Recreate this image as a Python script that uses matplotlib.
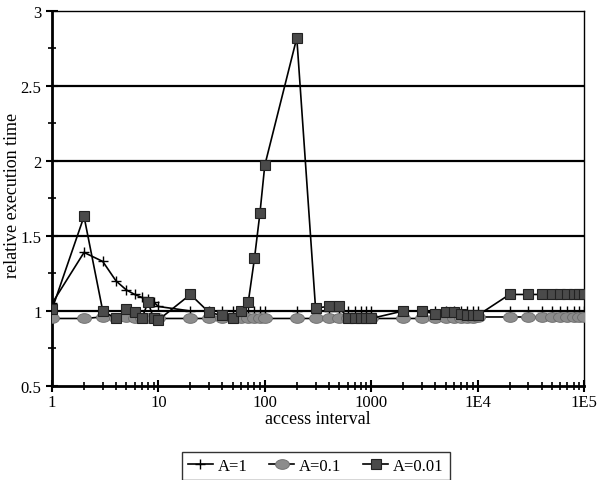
import matplotlib.pyplot as plt
import numpy as np
from matplotlib.path import Path
from matplotlib.ticker import FixedLocator, NullFormatter

# access interval values (1..9 per decade up to 1E5)
intervals = [1, 2, 3, 4, 5, 6, 7, 8, 9,
             10, 20, 30, 40, 50, 60, 70, 80, 90,
             100, 200, 300, 400, 500, 600, 700, 800, 900,
             1000, 2000, 3000, 4000, 5000, 6000, 7000, 8000, 9000,
             10000, 20000, 30000, 40000, 50000, 60000, 70000, 80000, 90000,
             100000]

a_1 = [1.05, 1.39, 1.33, 1.20, 1.14, 1.11, 1.09, 1.08, 1.06,
       1.03, 1.00, 1.00, 1.00, 1.00, 1.00, 1.00, 1.00, 1.00,
       1.00, 1.00, 1.00, 1.00, 1.00, 1.00, 1.00, 1.00, 1.00,
       1.00, 1.00, 1.00, 1.00, 1.00, 1.00, 1.00, 1.00, 1.00,
       1.00, 1.00, 1.00, 1.00, 1.00, 1.00, 1.00, 1.00, 1.00,
       1.00]

a_01 = [0.95, 0.95, 0.96, 0.95, 0.96, 0.95, 0.95, 0.95, 0.95,
        0.95, 0.95, 0.95, 0.95, 0.95, 0.95, 0.95, 0.95, 0.95,
        0.95, 0.95, 0.95, 0.95, 0.95, 0.95, 0.95, 0.95, 0.95,
        0.95, 0.95, 0.95, 0.95, 0.95, 0.95, 0.95, 0.95, 0.95,
        0.96, 0.96, 0.96, 0.96, 0.96, 0.96, 0.96, 0.96, 0.96,
        0.96]

a_001 = [1.01, 1.63, 1.00, 0.95, 1.01, 0.99, 0.95, 1.06, 0.95,
         0.94, 1.11, 0.99, 0.97, 0.95, 1.00, 1.06, 1.35, 1.65,
         1.97, 2.82, 1.02, 1.03, 1.03, 0.95, 0.95, 0.95, 0.95,
         0.95, 1.00, 1.00, 0.98, 0.99, 0.99, 0.98, 0.97, 0.97,
         0.97, 1.11, 1.11, 1.11, 1.11, 1.11, 1.11, 1.11, 1.11,
         1.11]

tick_vals = [1, 10, 100, 1000, 10000, 100000]
tick_labels = ['1', '10', '100', '1000', '1E4', '1E5']

plt.rcParams['font.family'] = ['Liberation Serif', 'DejaVu Serif']

# flattened ellipse marker for the A=0.1 series
t = np.linspace(0, 2 * np.pi, 40)
ellipse = Path(np.column_stack([np.cos(t), 0.7 * np.sin(t)]), closed=True)

fig = plt.figure(figsize=(5.97, 4.81), dpi=100)
ax = fig.add_axes([0.0871, 0.1954, 0.891, 0.78])

for y in [1.0, 1.5, 2.0, 2.5]:
    ax.axhline(y, color='black', lw=1.6, zorder=1)

ax.plot(intervals, a_1, color='black', lw=1.2, marker='+', ms=7, mew=1.0,
        label='A=1', zorder=3)
ax.plot(intervals, a_01, color='black', lw=1.2, marker=ellipse, ms=10,
        mfc='#8c8c8c', mec='#6a6a6a', mew=0.6, label='A=0.1', zorder=4)
ax.plot(intervals, a_001, color='black', lw=1.2, marker='s', ms=6.5,
        mfc='#4a4a4a', mec='#222222', mew=0.8, label='A=0.01', zorder=5)

ax.set_xscale('log')
ax.set_xlim(1, 100000)
ax.set_ylim(0.5, 3)

ax.xaxis.set_major_locator(FixedLocator(tick_vals))
ax.set_xticklabels(tick_labels)
ax.xaxis.set_minor_locator(FixedLocator([m * 10 ** d for d in range(5) for m in range(2, 10)]))
ax.xaxis.set_minor_formatter(NullFormatter())
ax.set_yticks([0.5, 1, 1.5, 2, 2.5, 3])
ax.set_yticklabels(['0.5', '1', '1.5', '2', '2.5', '3'])
ax.set_yticks([0.75, 1.25, 1.75, 2.25, 2.75], minor=True)

ax.tick_params(axis='both', which='major', direction='inout', length=8, width=1.5,
               labelsize=12, color='black')
ax.tick_params(axis='both', which='minor', direction='inout', length=6, width=1.2)
ax.tick_params(axis='x', pad=2)

for side in ['left', 'bottom']:
    ax.spines[side].set_linewidth(2)
for side in ['top', 'right']:
    ax.spines[side].set_linewidth(1)

ax.set_xlabel('access interval', fontsize=13, labelpad=0)
ax.set_ylabel('relative execution time', fontsize=13)
ax.yaxis.set_label_coords(-0.058, 0.51)

leg = fig.legend(loc='upper center', bbox_to_anchor=(0.529, 0.058), ncol=3,
                 fontsize=12, frameon=True, fancybox=False, edgecolor='black',
                 handlelength=1.5, columnspacing=1.3, handletextpad=0.3,
                 borderpad=0.35, borderaxespad=0)
leg.get_frame().set_linewidth(1.0)

fig.savefig('out.png', dpi=100)
